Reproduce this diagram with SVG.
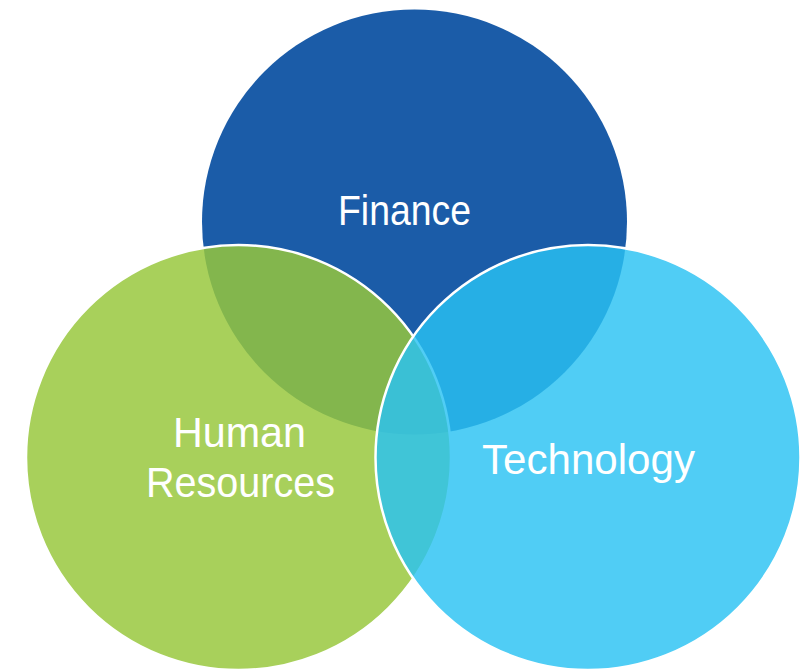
<svg xmlns="http://www.w3.org/2000/svg" width="800" height="670" viewBox="0 0 800 670">
  <style>
    .label { font-family: "Liberation Sans", Arial, sans-serif; font-size: 42px; fill: #ffffff; text-anchor: middle; }
  </style>
  <rect x="0" y="0" width="800" height="670" fill="#ffffff"/>
  <g id="finance">
    <circle cx="414.5" cy="222" r="212.5" fill="#1b5ca8"/>
  </g>
  <g id="human-resources">
    <circle cx="238.5" cy="457.5" r="212.5" fill="rgb(151,199,59)" fill-opacity="0.84" stroke="#ffffff" stroke-width="2.5"/>
  </g>
  <g id="technology">
    <circle cx="588" cy="457.5" r="212.5" fill="rgb(42,194,243)" fill-opacity="0.82" stroke="#ffffff" stroke-width="2.5"/>
  </g>
  <g id="connectors"></g>
  <g id="labels">
    <text class="label" x="404.5" y="225" textLength="133" lengthAdjust="spacingAndGlyphs">Finance</text>
    <text class="label" x="239.5" y="447" textLength="133" lengthAdjust="spacingAndGlyphs">Human</text>
    <text class="label" x="240.5" y="497" textLength="189" lengthAdjust="spacingAndGlyphs">Resources</text>
    <text class="label" x="588.5" y="474" textLength="213" lengthAdjust="spacingAndGlyphs">Technology</text>
  </g>
</svg>
